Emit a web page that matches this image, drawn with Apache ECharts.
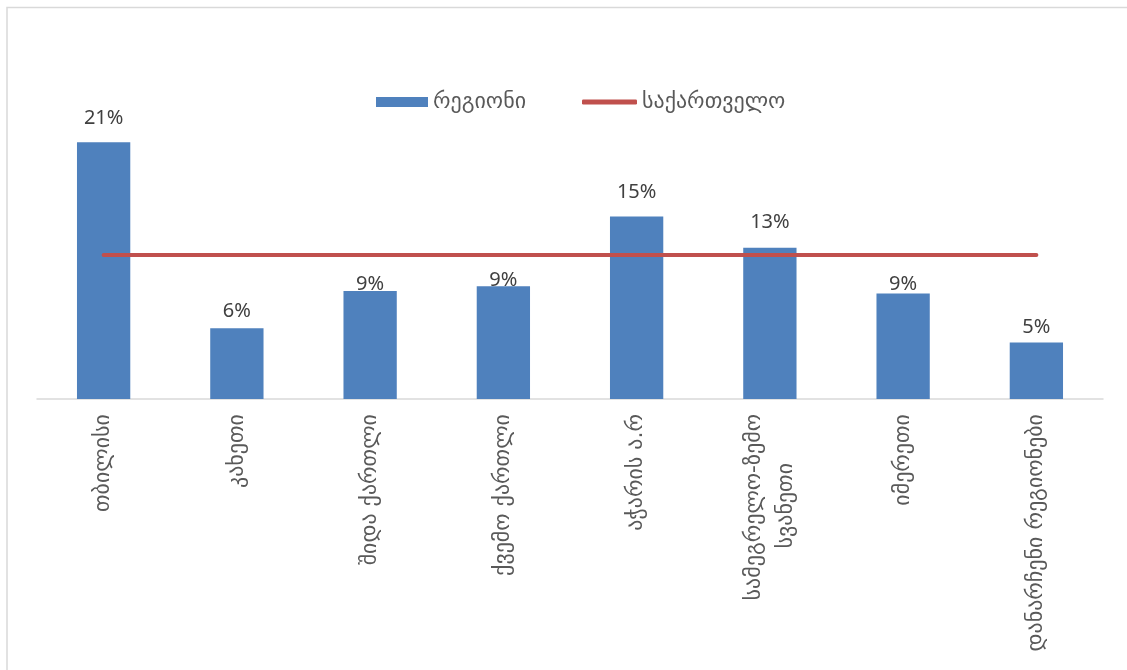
<!DOCTYPE html>
<html>
<head>
<meta charset="utf-8">
<script src="https://cdn.jsdelivr.net/npm/echarts@6/dist/echarts.min.js"></script>
<style>
  html, body { margin: 0; padding: 0; background: #fff; }
  #chart { width: 1127px; height: 670px; }
</style>
</head>
<body>
<div id="chart"></div>
<script>
// Regions and their shares (percent)
const categories = [
  'თბილისი',
  'კახეთი',
  'შიდა ქართლი',
  'ქვემო ქართლი',
  'აჭარის ა.რ',
  'სამეგრელო-ზემო\nსვანეთი\u00a0\u00a0\u00a0\u00a0\u00a0\u00a0\u00a0',
  'იმერეთი',
  'დანარჩენი რეგიონები'
];
const regionValues = [21.4, 5.9, 9.0, 9.4, 15.2, 12.6, 8.8, 4.7];
// Country-wide level, drawn as a flat line across all regions
const georgiaValue = 12.0;
const georgiaValues = categories.map(() => georgiaValue);

const seriesNames = ['რეგიონი', 'საქართველო'];

// Gap between each bar top and its value label
const labelGaps = [14, 7, -3, -4, 14, 16, -1, 5];

const NUM_FONT = "'Noto Sans', sans-serif";
const GEO_FONT = "'DejaVu Sans', sans-serif";

const chart = echarts.init(document.getElementById('chart'), null, { renderer: 'canvas' });

const legendText = { fontFamily: GEO_FONT, fontSize: 22, color: '#595959' };

chart.setOption({
  animation: false,
  backgroundColor: '#ffffff',
  graphic: [{
    type: 'rect',
    shape: { x: 7, y: 7.5, width: 1200, height: 800 },
    style: { fill: 'none', stroke: '#d9d9d9', lineWidth: 1.5 },
    silent: true
  }],
  legend: [
    {
      left: 371,
      top: 86,
      itemWidth: 52,
      itemHeight: 10,
      icon: 'rect',
      textStyle: legendText,
      data: [seriesNames[0]]
    },
    {
      left: 577,
      top: 86,
      itemWidth: 55,
      itemHeight: 5,
      icon: 'roundRect',
      textStyle: legendText,
      data: [seriesNames[1]]
    }
  ],
  grid: {
    left: 37,
    right: 24,
    top: 99,
    bottom: 271,
    containLabel: false,
    outerBoundsMode: 'none'
  },
  xAxis: {
    type: 'category',
    data: categories,
    axisLine: { lineStyle: { color: '#d9d9d9', width: 1.5 } },
    axisTick: { show: false },
    axisLabel: {
      rotate: 90,
      interval: 0,
      margin: 15,
      fontFamily: GEO_FONT,
      fontSize: 22,
      color: '#595959',
      lineHeight: 32
    }
  },
  yAxis: {
    type: 'value',
    min: 0,
    max: 25,
    show: false,
    splitLine: { show: false }
  },
  series: [
    {
      name: seriesNames[0],
      type: 'bar',
      barWidth: '40%',
      itemStyle: { color: '#4f81bd' },
      data: regionValues.map((v, i) => ({
        value: v,
        label: { distance: labelGaps[i] }
      })),
      label: {
        show: true,
        position: 'top',
        fontFamily: NUM_FONT,
        fontSize: 20,
        color: '#404040',
        formatter: p => Math.round(p.value) + '%'
      },
      z: 2
    },
    {
      name: seriesNames[1],
      type: 'line',
      data: georgiaValues,
      symbol: 'none',
      lineStyle: { color: '#c0504d', width: 4, cap: 'round' },
      itemStyle: { color: '#c0504d' },
      z: 3
    }
  ]
});
</script>
</body>
</html>
